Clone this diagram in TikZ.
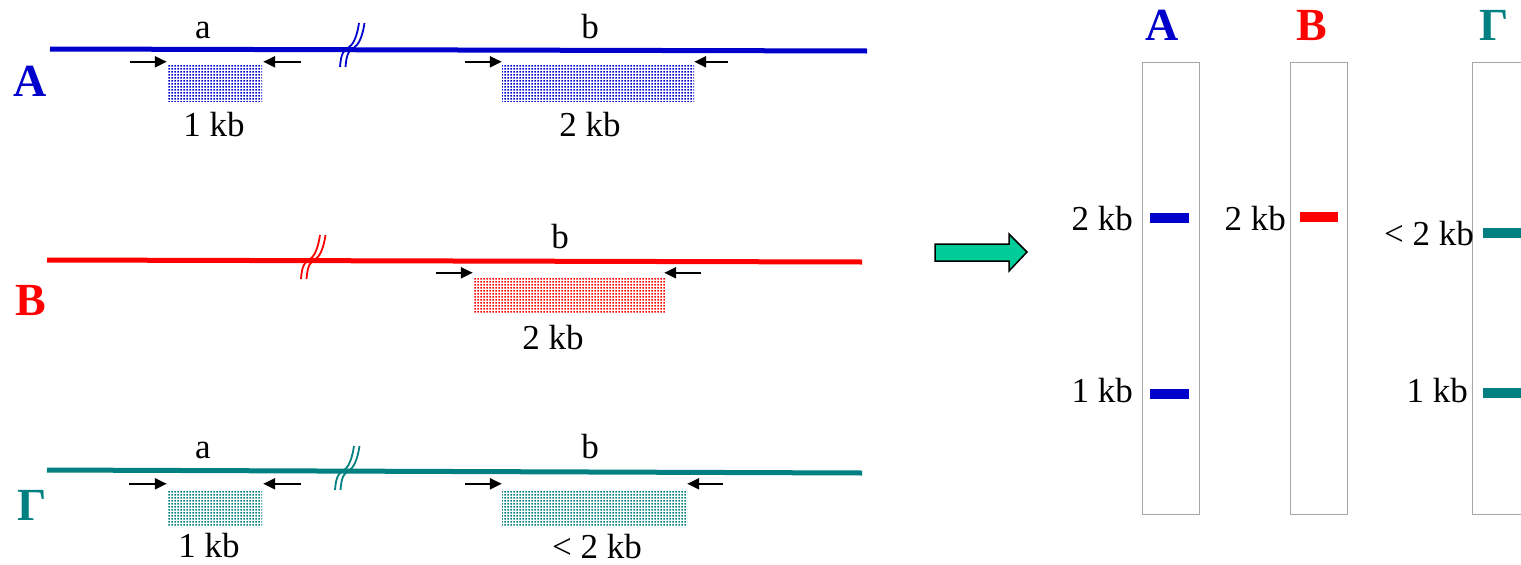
\documentclass[tikz,border=0pt]{standalone}
\usepackage{fontspec}
\setmainfont{Liberation Serif}
\usetikzlibrary{arrows.meta,patterns}

\definecolor{dnablue}{RGB}{0,0,204}
\definecolor{dnared}{RGB}{255,0,0}
\definecolor{dnateal}{RGB}{0,128,128}
\definecolor{arrowgreen}{RGB}{0,204,153}

% small square dots, 3pt apart, for the amplified pieces
\pgfdeclarepatternformonly{halftone}{\pgfqpoint{0pt}{0pt}}{\pgfqpoint{3pt}{3pt}}{\pgfqpoint{3pt}{3pt}}%
  {\pgfpathrectangle{\pgfqpoint{0.4pt}{0.4pt}}{\pgfqpoint{2pt}{2pt}}\pgfusepath{fill}}

\tikzset{
  dnabreak/.pic={
    \draw[cut] (-7,18) .. controls (-6,4) and (-3,1) .. (1,-1) .. controls (6,-4) and (10,-12) .. (12,-26);
    \draw[cut] (-1.5,18) .. controls (-0.5,4) and (2.5,1) .. (6.5,-1) .. controls (11.5,-4) and (15.5,-12) .. (17.5,-26);
  }
}

\begin{document}
\begin{tikzpicture}[
  x=1pt, y=-1pt,
  every node/.style={inner sep=0pt, font=\fontsize{35}{40}\selectfont},
  strand/.style={line width=5pt},
  cut/.style={line width=1.8pt},
  amplicon/.style={pattern=halftone, minimum height=36pt},
  primer/.style={-{Triangle[length=12pt,width=11pt]}, line width=2.2pt},
  title/.style={anchor=base, font=\fontsize{46}{50}\selectfont\bfseries},
  lane/.style={draw=black!35, line width=1pt},
  band/.style={line width=10pt},
  size/.style={anchor=base east}]

  \useasboundingbox (0,0) rectangle (1521,565);

  % row A
  \coordinate (A-start) at (50,49);
  \coordinate (A-end) at (867,51);
  \draw[strand, dnablue] (A-start) -- (A-end);
  \pic[dnablue] at (347,49) {dnabreak};
  \node[title, text=dnablue] (A-title) at (30,96) {A};
  \node[anchor=base] (A-site-a) at (203,38) {a};
  \node[anchor=base] (A-site-b) at (590,38) {b};
  \node[amplicon, pattern color=dnablue, minimum width=95pt] (A-amp-a) at (214.5,83) {};
  \node[amplicon, pattern color=dnablue, minimum width=192pt] (A-amp-b) at (598,83) {};
  \draw[primer] ([xshift=-37pt,yshift=3pt]A-amp-a.north west) -- ([yshift=3pt]A-amp-a.north west);
  \draw[primer] ([xshift=39pt,yshift=3pt]A-amp-a.north east) -- ([xshift=1pt,yshift=3pt]A-amp-a.north east);
  \draw[primer] ([xshift=-37pt,yshift=3pt]A-amp-b.north west) -- ([yshift=3pt]A-amp-b.north west);
  \draw[primer] ([xshift=34pt,yshift=3pt]A-amp-b.north east) -- ([yshift=3pt]A-amp-b.north east);
  \node[anchor=base] (A-size-a) at (214,136) {1 kb};
  \node[anchor=base] (A-size-b) at (590,136) {2 kb};

  % row B
  \coordinate (B-start) at (47,260);
  \coordinate (B-end) at (862,262);
  \draw[strand, dnared] (B-start) -- (B-end);
  \pic[dnared] at (308,261) {dnabreak};
  \node[title, text=dnared] (B-title) at (31,315) {B};
  \node[anchor=base] (B-site-b) at (560,248) {b};
  \node[amplicon, pattern color=dnared, minimum width=192pt] (B-amp-b) at (569,295) {};
  \draw[primer] ([xshift=-37pt,yshift=4pt]B-amp-b.north west) -- ([yshift=4pt]B-amp-b.north west);
  \draw[primer] ([xshift=36pt,yshift=4pt]B-amp-b.north east) -- ([xshift=-1pt,yshift=4pt]B-amp-b.north east);
  \node[anchor=base] (B-size-b) at (553,349) {2 kb};

  % row Gamma
  \coordinate (G-start) at (47,470);
  \coordinate (G-end) at (862,473);
  \draw[strand, dnateal] (G-start) -- (G-end);
  \pic[dnateal] at (342,472) {dnabreak};
  \node[title, text=dnateal] (G-title) at (32,520) {Γ};
  \node[anchor=base] (G-site-a) at (203,458) {a};
  \node[anchor=base] (G-site-b) at (590,458) {b};
  \node[amplicon, pattern color=dnateal, minimum width=95pt] (G-amp-a) at (214.5,508) {};
  \node[amplicon, pattern color=dnateal, minimum width=185pt] (G-amp-b) at (594.5,508) {};
  \draw[primer] ([xshift=-38pt,yshift=6pt]G-amp-a.north west) -- ([yshift=6pt]G-amp-a.north west);
  \draw[primer] ([xshift=39pt,yshift=6pt]G-amp-a.north east) -- ([xshift=1pt,yshift=6pt]G-amp-a.north east);
  \draw[primer] ([xshift=-37pt,yshift=6pt]G-amp-b.north west) -- ([yshift=6pt]G-amp-b.north west);
  \draw[primer] ([xshift=36pt,yshift=6pt]G-amp-b.north east) -- ([yshift=6pt]G-amp-b.north east);
  \node[anchor=base] (G-size-a) at (209,557) {1 kb};
  \node[anchor=base] (G-size-b) at (597,558) {< 2 kb};

  % big arrow to the gel
  \draw[fill=arrowgreen, line width=1.5pt, line join=miter]
    (935,244) -- (1009,244) -- (1009,234) -- (1027,252) -- (1009,271) -- (1009,261) -- (935,261) -- cycle;

  % gel lanes
  \node[lane, minimum width=57pt, minimum height=452pt] (gel-A) at (1170.5,288) {};
  \node[lane, minimum width=57pt, minimum height=452pt] (gel-B) at (1318.5,288) {};
  \node[lane, minimum width=60pt, minimum height=452pt] (gel-G) at (1502,288) {};
  \node[title, text=dnablue] (gel-A-title) at (1162,40) {A};
  \node[title, text=dnared] (gel-B-title) at (1312,40) {B};
  \node[title, text=dnateal] (gel-G-title) at (1494,40) {Γ};

  \draw[band, dnablue] (1150,218) -- (1189,218);
  \draw[band, dnablue] (1150,394) -- (1189,394);
  \draw[band, dnared] (1300,217) -- (1338,217);
  \draw[band, dnateal] (1483,233) -- (1525,233);
  \draw[band, dnateal] (1483,393) -- (1525,393);

  \node[size] (gel-A-2kb) at (1133,230) {2 kb};
  \node[size] (gel-A-1kb) at (1133,402) {1 kb};
  \node[size] (gel-B-2kb) at (1286,230) {2 kb};
  \node[size] (gel-G-2kb) at (1474,245) {< 2 kb};
  \node[size] (gel-G-1kb) at (1468,402) {1 kb};

\end{tikzpicture}
\end{document}
